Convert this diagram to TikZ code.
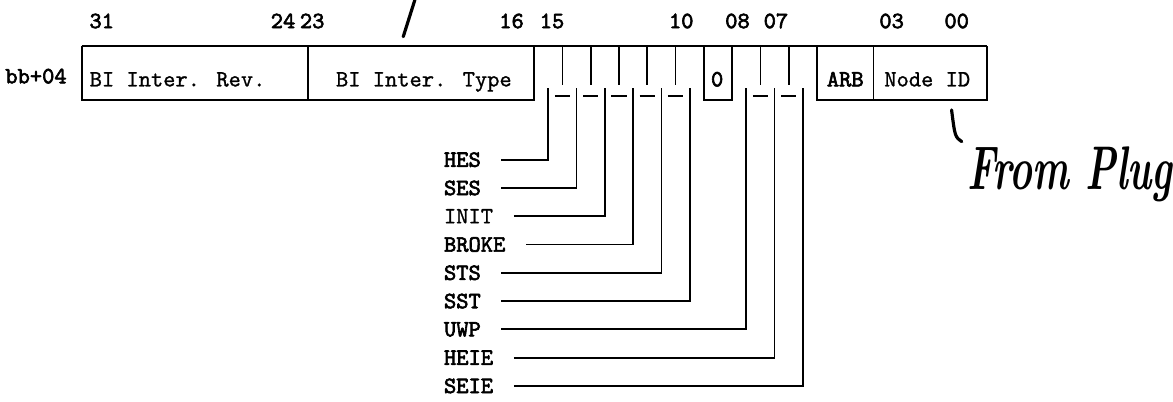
\documentclass[tikz,border=0pt]{standalone}
\usepackage{fontspec}
\usepackage{tikz}
\newfontfamily\plaintt{lmmono10-regular}[Extension=.otf, FakeBold=1]
\newfontfamily\heavytt{lmmono10-regular}[Extension=.otf, FakeBold=2.6]

\begin{document}
\begin{tikzpicture}[x=0.5cm,y=0.5cm,line width=0.9pt,
		bitno/.style={font=\heavytt\fontsize{11.75}{14}\selectfont, anchor=base, inner sep=0pt},
		field/.style={font=\plaintt\fontsize{11.75}{14}\selectfont, anchor=base, inner sep=0pt},
		signal/.style={font=\heavytt\fontsize{11.75}{14}\selectfont, anchor=west, inner sep=0pt},
		hand/.style={line width=1.6pt, line cap=round}]
		\useasboundingbox (-2.889,-12.564) rectangle (38.59,1.616);
		%Registro
		\draw (0,0) -- (32,0);
		\draw (16,0) -- (16,-1.92) -- (0,-1.92) -- (0,0);
		\draw (8,0) -- (8,-1.92);
		\draw (22,0) -- (22,-1.92) -- (23,-1.92) -- (23,0);
		\draw (26,0) -- (26,-1.92) -- (32,-1.92) -- (32,0);
		\draw (28,0) -- (28,-1.92);
		%Bit singoli
		\draw (17,0) -- (17,-1.39) (18,0) -- (18,-1.39) (19,0) -- (19,-1.39)
			(20,0) -- (20,-1.39) (21,0) -- (21,-1.39) (24,0) -- (24,-1.39) (25,0) -- (25,-1.39);
		\draw (16.73,-1.78) -- (17.27,-1.78) (17.73,-1.78) -- (18.27,-1.78) (18.73,-1.78) -- (19.27,-1.78)
			(19.73,-1.78) -- (20.27,-1.78) (20.73,-1.78) -- (21.27,-1.78)
			(23.73,-1.78) -- (24.27,-1.78) (24.73,-1.78) -- (25.27,-1.78);
		\coordinate (b15) at (16.5,-1.51);
		\coordinate (b14) at (17.5,-1.51);
		\coordinate (b13) at (18.5,-1.51);
		\coordinate (b12) at (19.5,-1.51);
		\coordinate (b11) at (20.5,-1.51);
		\coordinate (b10) at (21.5,-1.51);
		\coordinate (b08) at (23.5,-1.51);
		\coordinate (b07) at (24.5,-1.51);
		\coordinate (b06) at (25.5,-1.51);
		%Numeri
		\node [bitno] at (0.707,0.62) {31};
		\node [bitno] at (7.12,0.62) {24};
		\node [bitno] at (8.15,0.62) {23};
		\node [bitno] at (15.2,0.62) {16};
		\node [bitno] at (16.63,0.62) {15};
		\node [bitno] at (21.2,0.62) {10};
		\node [bitno] at (23.19,0.62) {08};
		\node [bitno] at (24.55,0.62) {07};
		\node [bitno] at (28.64,0.62) {03};
		\node [bitno] at (30.94,0.62) {00};
		\node [bitno, anchor=base east] at (-0.5,-1.33) {bb+04};
		%Campi
		\node [field] at (3.39,-1.44) {BI Inter. Rev.};
		\node [field] at (12.1,-1.44) {BI Inter. Type};
		\node [bitno] at (22.47,-1.44) {0};
		\node [bitno] at (27,-1.44) {ARB};
		\node [field] at (29.9,-1.44) {Node ID};
		%Segnali
		\node [signal] (hes) at (12.78,-4.03) {HES};
		\node [signal] (ses) at (12.78,-5.03) {SES};
		\node [signal, font=\plaintt\fontsize{11.75}{14}\selectfont] (init) at (12.78,-6.03) {INIT};
		\node [signal] (broke) at (12.78,-7.03) {BROKE};
		\node [signal] (sts) at (12.78,-8.03) {STS};
		\node [signal] (sst) at (12.78,-9.03) {SST};
		\node [signal] (uwp) at (12.78,-10.03) {UWP};
		\node [signal] (heie) at (12.78,-11.03) {HEIE};
		\node [signal] (seie) at (12.78,-12.03) {SEIE};
		\draw ([xshift=0.35cm]hes.east) -| (b15);
		\draw ([xshift=0.35cm]ses.east) -| (b14);
		\draw ([xshift=0.35cm]init.east) -| (b13);
		\draw ([xshift=0.35cm]broke.east) -| (b12);
		\draw ([xshift=0.35cm]sts.east) -| (b11);
		\draw ([xshift=0.35cm]sst.east) -| (b10);
		\draw ([xshift=0.35cm]uwp.east) -| (b08);
		\draw ([xshift=0.35cm]heie.east) -| (b07);
		\draw ([xshift=0.35cm]seie.east) -| (b06);
		%A mano
		\draw [hand] (11.78,1.616) -- (11.37,0.318);
		\draw [hand] (30.76,-2.27) .. controls (30.88,-3.22) .. (31.12,-3.39);
		\node [font=\fontsize{31}{31}\selectfont\bfseries\itshape, anchor=base, inner sep=0pt] (plug) at (34.95,-5.1) {\scalebox{0.63}[1]{From Plug}};
	\end{tikzpicture}
\end{document}
